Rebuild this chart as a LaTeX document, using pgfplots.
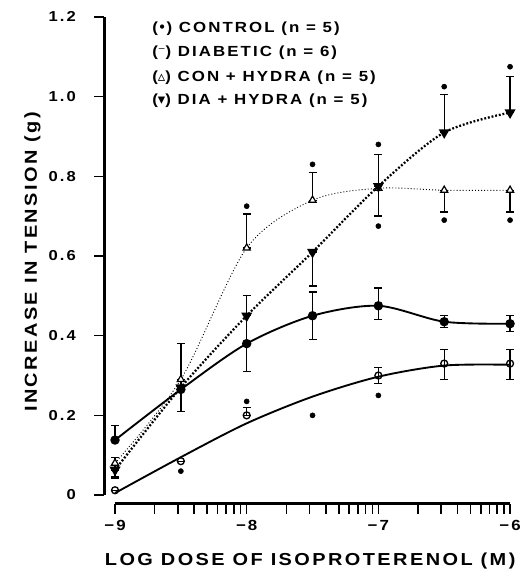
\documentclass[border=0pt]{standalone}
\usepackage{fontspec}
\setmainfont{Liberation Sans}
\newfontfamily\cf{Liberation Sans Bold}[FakeStretch=1.15, LetterSpace=14]
\newfontfamily\symfont{DejaVu Sans}
\usepackage{pgfplots}
\pgfplotsset{compat=1.18}

\pgfplotsset{
  ctrl/.style={black, line width=1.4pt, smooth, mark=*, mark size=2.8pt, mark options={solid}},
  diabline/.style={black, line width=1.4pt, smooth, no marks},
  diab/.style={black, only marks, mark=o, mark size=2.6pt, mark options={solid, fill=white, line width=1pt}},
  conh/.style={black, line width=0.7pt, smooth, dash pattern=on 0.7pt off 1.6pt, mark=triangle*, mark size=3.1pt, mark options={solid, fill=white, line width=0.9pt}},
  diah/.style={black, line width=1.7pt, smooth, dash pattern=on 1.4pt off 1.4pt, mark=triangle*, mark size=3.1pt, mark options={solid, rotate=180}},
  ebars/.style={error bars/.cd, y dir=both, y explicit,
    error bar style={line width=1pt, solid},
    error mark options={rotate=90, mark size=3pt, line width=1pt}},
}

\begin{document}
\begin{tikzpicture}
\path[use as bounding box] (-86.25pt,-53.6pt) rectangle (306pt,377.6pt);
\begin{axis}[
  scale only axis, width=296.25pt, height=364.9pt,
  xmin=-9, xmax=-6, ymin=-0.0213, ymax=1.2,
  clip=false,
  axis x line*=bottom, axis y line*=left,
  axis y line shift=7.9pt,
  x axis line style={-, line width=1.9pt},
  y axis line style={-, line width=1.6pt, shorten <=6.4pt},
  tick align=outside,
  xtick={-9,-8,-7,-6},
  xticklabels={−9,−8,−7,−6},
  extra x ticks={-8.69897,-8.52288,-8.39794,-8.30103,-8.22185,-8.15490,-8.09691,-8.04576,-7.69897,-7.52288,-7.39794,-7.30103,-7.22185,-7.15490,-7.09691,-7.04576,-6.69897,-6.52288,-6.39794,-6.30103,-6.22185,-6.15490,-6.09691,-6.04576},
  extra x tick labels={},
  extra x tick style={tick align=outside, tick style={line width=1.3pt, black}},
  ytick={0,0.2,0.4,0.6,0.8,1.0,1.2},
  yticklabels={0,0.2,0.4,0.6,0.8,1.0,1.2},
  major tick length=7.5pt,
  major tick style={line width=1.2pt, black},
  xticklabel style={font=\cf\fontsize{11}{13}\selectfont},
  yticklabel style={font=\cf\fontsize{10.8}{12}\selectfont},
  xticklabel shift=1.5pt,
  yticklabel shift=10.5pt,
  xlabel={LOG DOSE OF ISOPROTERENOL (M)},
  ylabel={INCREASE IN TENSION (g)},
  xlabel style={font=\cf\fontsize{13}{15}\selectfont, at={(axis description cs:0.494,-0.1276)}, anchor=base},
  ylabel style={font=\cf\fontsize{13}{15}\selectfont, at={(axis description cs:-0.1975,0.4965)}, anchor=base},
]
% control
\addplot[ctrl, ebars] table[x=x, y=y, y error plus=ep, y error minus=em] {
x y ep em
-9 0.138 0.037 0
-8.5 0.265 0.115 0.055
-8 0.38 0.12 0.07
-7.5 0.45 0.06 0.06
-7 0.475 0.045 0.035
-6.5 0.435 0.015 0.015
-6 0.43 0.02 0.02
};
% diabetic: fitted curve, then points
\addplot[diabline] coordinates {
(-9,0.005) (-8.5,0.095) (-8,0.18) (-7.5,0.247) (-7,0.297) (-6.5,0.325) (-6,0.327)
};
\addplot[diab, ebars] table[x=x, y=y, y error plus=ep, y error minus=em] {
x y ep em
-9 0.012 0 0
-8.5 0.085 0 0
-8 0.2 0.02 0
-7 0.30 0.02 0.02
-6.5 0.33 0.035 0.04
-6 0.33 0.035 0.04
};
% con + hydra
\addplot[conh, ebars] table[x=x, y=y, y error plus=ep, y error minus=em] {
x y ep em
-9 0.08 0.015 0.035
-8.5 0.29 0 0
-8 0.62 0.085 0
-7.5 0.74 0.07 0
-7 0.77 0.085 0.07
-6.5 0.765 0 0.055
-6 0.765 0 0.055
};
% dia + hydra
\addplot[diah, ebars] table[x=x, y=y, y error plus=ep, y error minus=em] {
x y ep em
-9 0.063 0 0.02
-8.5 0.27 0 0
-8 0.45 0 0
-7.5 0.61 0 0.085
-7 0.775 0 0
-6.5 0.91 0.095 0
-6 0.96 0.09 0
};
% significance dots
\addplot[only marks, mark=*, mark size=1.9pt, black] coordinates {
(-8.5,0.06) (-8,0.235) (-8,0.725) (-7.5,0.20) (-7.5,0.83)
(-7,0.25) (-7,0.88) (-7,0.675) (-6.5,1.025) (-6.5,0.69) (-6,1.075) (-6,0.69)
};
\node[anchor=base west, inner sep=0pt, font=\cf\fontsize{11}{12}\selectfont] at (axis cs:-8.719,1.160) {({\symfont •}) CONTROL (n = 5)};
\node[anchor=base west, inner sep=0pt, font=\cf\fontsize{11}{12}\selectfont] at (axis cs:-8.719,1.100) {({\symfont ⁻}) DIABETIC (n = 6)};
\node[anchor=base west, inner sep=0pt, font=\cf\fontsize{11}{12}\selectfont] at (axis cs:-8.719,1.038) {({\symfont ▵}) CON + HYDRA (n = 5)};
\node[anchor=base west, inner sep=0pt, font=\cf\fontsize{11}{12}\selectfont] at (axis cs:-8.719,0.979) {({\symfont ▾}) DIA + HYDRA (n = 5)};
\end{axis}
\end{tikzpicture}
\end{document}
